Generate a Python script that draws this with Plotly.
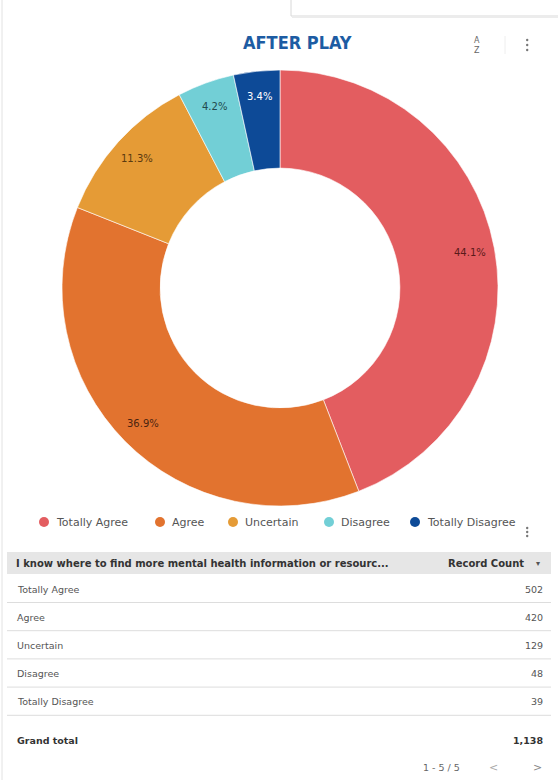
import math
import plotly.graph_objects as go

# Survey responses: "I know where to find more mental health information or resources"
categories = ["Totally Agree", "Agree", "Uncertain", "Disagree", "Totally Disagree"]
record_counts = [502, 420, 129, 48, 39]
slice_colors = ["#e35d60", "#e2732f", "#e59b36", "#72cfd6", "#0d4a97"]
label_colors = ["#5a1a1a", "#4a2410", "#5a3a10", "#234a4d", "#ffffff"]

chart_title = "AFTER PLAY"
table_header = "I know where to find more mental health information or resourc..."
metric_header = "Record Count"

W, H = 558, 780
FONT = "DejaVu Sans"

# donut geometry in pixels
CX, CY, R_OUT = 280, 288, 218
HOLE = 0.55
LABEL_R = 0.885 * R_OUT


def X(px):
    return px / W


def Y(py):
    return 1 - py / H


fig = go.Figure()

fig.add_trace(go.Pie(
    labels=categories,
    values=record_counts,
    sort=False,
    direction="clockwise",
    rotation=0,
    hole=HOLE,
    marker=dict(colors=slice_colors, line=dict(color="#ffffff", width=0.6)),
    textinfo="none",
    domain=dict(x=[X(CX - R_OUT), X(CX + R_OUT)], y=[Y(CY + R_OUT), Y(CY - R_OUT)]),
    showlegend=False,
    hoverinfo="label+value+percent",
))

shapes = []
ann = []

# percentage labels placed toward the outer rim of each slice
total = sum(record_counts)
cum = 0
for count, tcol in zip(record_counts, label_colors):
    mid = (cum + count / 2) / total * 2 * math.pi
    cum += count
    lx = CX + LABEL_R * math.sin(mid)
    ly = CY - LABEL_R * math.cos(mid)
    ann.append(dict(text=f"{count / total * 100:.1f}%", x=X(lx), y=Y(ly), xref="paper", yref="paper",
                    showarrow=False, font=dict(family=FONT, size=10, color=tcol),
                    xanchor="center", yanchor="middle"))

# frame edge on the left
shapes.append(dict(type="line", xref="paper", yref="paper", x0=X(2), x1=X(2), y0=0, y1=1,
                   line=dict(color="#e2e2e2", width=1)))

# dropdown control at the top right
shapes.append(dict(type="rect", xref="paper", yref="paper", x0=X(291), x1=X(560), y0=Y(16), y1=Y(-5),
                   line=dict(color="#d8d8d8", width=1), fillcolor="#ffffff"))
shapes.append(dict(type="line", xref="paper", yref="paper", x0=X(292), x1=X(558), y0=Y(17), y1=Y(17),
                   line=dict(color="#ececec", width=2)))

# title
ann.append(dict(text="<b>" + chart_title + "</b>", x=X(297), y=Y(42), xref="paper", yref="paper",
                showarrow=False, font=dict(family="DejaVu Sans Condensed, DejaVu Sans", size=18, color="#1d5ca3"),
                xanchor="center", yanchor="middle"))
# sort and menu icons
ann.append(dict(text="A<br>Z", x=X(477), y=Y(45), xref="paper", yref="paper", showarrow=False,
                font=dict(family=FONT, size=8, color="#666666"), xanchor="center", yanchor="middle"))
shapes.append(dict(type="line", xref="paper", yref="paper", x0=X(505), x1=X(505), y0=Y(36), y1=Y(54),
                   line=dict(color="#eeeeee", width=1)))
for cy in (40, 45, 50):
    shapes.append(dict(type="circle", xref="paper", yref="paper", x0=X(526), x1=X(528.4),
                       y0=Y(cy + 1.2), y1=Y(cy - 1.2), fillcolor="#777777", line=dict(width=0)))

# legend
legend_dot_x = [44, 160, 233, 329, 415]
for name, color, dx in zip(categories, slice_colors, legend_dot_x):
    shapes.append(dict(type="circle", xref="paper", yref="paper", x0=X(dx - 5), x1=X(dx + 5),
                       y0=Y(527), y1=Y(517), fillcolor=color, line=dict(width=0)))
    ann.append(dict(text=name, x=X(dx + 10), y=Y(522), xref="paper", yref="paper", showarrow=False,
                    font=dict(family=FONT, size=11, color="#555555"), xanchor="left", yanchor="middle"))
for cy in (528, 532, 536):
    shapes.append(dict(type="circle", xref="paper", yref="paper", x0=X(526), x1=X(528.4),
                       y0=Y(cy + 1.2), y1=Y(cy - 1.2), fillcolor="#777777", line=dict(width=0)))

# table header
shapes.append(dict(type="rect", xref="paper", yref="paper", x0=X(7), x1=X(551), y0=Y(574), y1=Y(552),
                   fillcolor="#e6e6e6", line=dict(width=0)))
ann.append(dict(text="<b>" + table_header + "</b>", x=X(14), y=Y(563), xref="paper", yref="paper",
                showarrow=False, font=dict(family=FONT, size=10, color="#333333"),
                xanchor="left", yanchor="middle"))
ann.append(dict(text="<b>" + metric_header + "</b>", x=X(526), y=Y(563), xref="paper", yref="paper",
                showarrow=False, font=dict(family=FONT, size=10, color="#333333"),
                xanchor="right", yanchor="middle"))
ann.append(dict(text="▾", x=X(538), y=Y(563), xref="paper", yref="paper", showarrow=False,
                font=dict(family=FONT, size=8, color="#555555"), xanchor="center", yanchor="middle"))

# table rows
row_y0 = 589
row_step = 28.2
for i, (name, count) in enumerate(zip(categories, record_counts)):
    ry = row_y0 + i * row_step
    ann.append(dict(text=name, x=X(15), y=Y(ry), xref="paper", yref="paper", showarrow=False,
                    font=dict(family=FONT, size=9.5, color="#555555"), xanchor="left", yanchor="middle"))
    ann.append(dict(text=f"{count:,}", x=X(545), y=Y(ry), xref="paper", yref="paper", showarrow=False,
                    font=dict(family=FONT, size=9.5, color="#555555"), xanchor="right", yanchor="middle"))
    shapes.append(dict(type="line", xref="paper", yref="paper", x0=X(7), x1=X(551),
                       y0=Y(ry + 13.5), y1=Y(ry + 13.5), line=dict(color="#dddddd", width=1)))

# grand total
ann.append(dict(text="<b>Grand total</b>", x=X(15), y=Y(740), xref="paper", yref="paper", showarrow=False,
                font=dict(family=FONT, size=9.5, color="#333333"), xanchor="left", yanchor="middle"))
ann.append(dict(text=f"<b>{total:,}</b>", x=X(545), y=Y(740), xref="paper", yref="paper",
                showarrow=False, font=dict(family=FONT, size=9.5, color="#333333"),
                xanchor="right", yanchor="middle"))

# pagination
n = len(categories)
ann.append(dict(text=f"1 - {n} / {n}", x=X(441), y=Y(767), xref="paper", yref="paper", showarrow=False,
                font=dict(family=FONT, size=9.5, color="#666666"), xanchor="center", yanchor="middle"))
ann.append(dict(text="&lt;", x=X(493), y=Y(767), xref="paper", yref="paper", showarrow=False,
                font=dict(family=FONT, size=11, color="#aaaaaa"), xanchor="center", yanchor="middle"))
ann.append(dict(text="&gt;", x=X(537), y=Y(767), xref="paper", yref="paper", showarrow=False,
                font=dict(family=FONT, size=11, color="#888888"), xanchor="center", yanchor="middle"))

fig.update_layout(
    width=W, height=H,
    margin=dict(l=0, r=0, t=0, b=0),
    paper_bgcolor="#ffffff",
    plot_bgcolor="#ffffff",
    shapes=shapes,
    annotations=ann,
)

fig.write_html("out.html")
